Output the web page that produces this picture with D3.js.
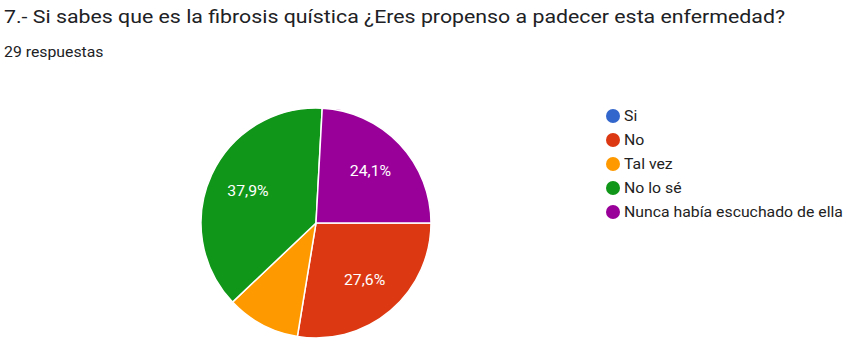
<!DOCTYPE html>
<html>
<head>
<meta charset="utf-8">
<script src="https://cdnjs.cloudflare.com/ajax/libs/d3/7.8.5/d3.min.js"></script>
<style>
  body { margin: 0; background: #fff; }
  text { font-family: Roboto, "Noto Sans", sans-serif; }
</style>
</head>
<body>
<div id="chart"></div>
<script>
var width = 854, height = 352;

// Data
var categories = ['Si', 'No', 'Tal vez', 'No lo sé', 'Nunca había escuchado de ella'];
var counts = [0, 8, 3, 11, 7];
var colors = ['#3366cc', '#dc3912', '#ff9900', '#109618', '#990099'];
var total = 29;

// the screenshot is a bit stretched sideways
var stretch = 1.13;

var svg = d3.select("#chart")
  .append("svg")
  .attr("width", width)
  .attr("height", height);

// Title
svg.append("text")
  .attr("x", 4)
  .attr("y", 23)
  .attr("textLength", 781)
  .attr("lengthAdjust", "spacingAndGlyphs")
  .style("font-size", "19px")
  .style("fill", "#202124")
  .text("7.- Si sabes que es la fibrosis quística ¿Eres propenso a padecer esta enfermedad?");

svg.append("text")
  .attr("transform", `translate(4,57) scale(${stretch},1)`)
  .style("font-size", "14px")
  .style("fill", "#202124")
  .text(total + " respuestas");

// Pie
var cx = 316, cy = 223, r = 115;

var pie = d3.pie()
  .sort(null)
  .value(d => d.value)
  .startAngle(Math.PI / 2)
  .endAngle(Math.PI / 2 + 2 * Math.PI);

var data = categories.map((c, i) => ({ name: c, value: counts[i], color: colors[i] }));

var arc = d3.arc().innerRadius(0).outerRadius(r);
var labelArc = d3.arc().innerRadius(75).outerRadius(75);

var pieG = svg.append("g")
  .attr("transform", `translate(${cx},${cy})`);

var arcs = pie(data);

pieG.selectAll("path")
  .data(arcs.filter(d => d.value > 0))
  .enter()
  .append("path")
  .attr("d", arc)
  .style("fill", d => d.data.color)
  .style("stroke", "#fff")
  .style("stroke-width", 1.5);

var fmt = v => (v / total * 100).toFixed(1).replace('.', ',') + '%';

pieG.selectAll(".slice-label")
  .data(arcs.filter(d => d.value / total > 0.15))
  .enter()
  .append("text")
  .attr("class", "slice-label")
  .attr("transform", d => `translate(${labelArc.centroid(d)}) scale(${stretch},1)`)
  .attr("dy", "0.35em")
  .style("text-anchor", "middle")
  .style("font-size", "14px")
  .style("fill", "#fff")
  .text(d => fmt(d.value));

// Legend
var legendY = d3.scalePoint()
  .domain(categories)
  .range([116, 212]);

var legend = svg.append("g").attr("class", "legend");

var items = legend.selectAll("g")
  .data(data)
  .enter()
  .append("g")
  .attr("transform", d => `translate(613,${legendY(d.name)})`);

items.append("circle")
  .attr("r", 7)
  .style("fill", d => d.color);

items.append("text")
  .attr("transform", `translate(11,0) scale(${stretch},1)`)
  .attr("dy", "0.35em")
  .style("font-size", "14px")
  .style("fill", "#222")
  .text(d => d.name);
</script>
</body>
</html>
